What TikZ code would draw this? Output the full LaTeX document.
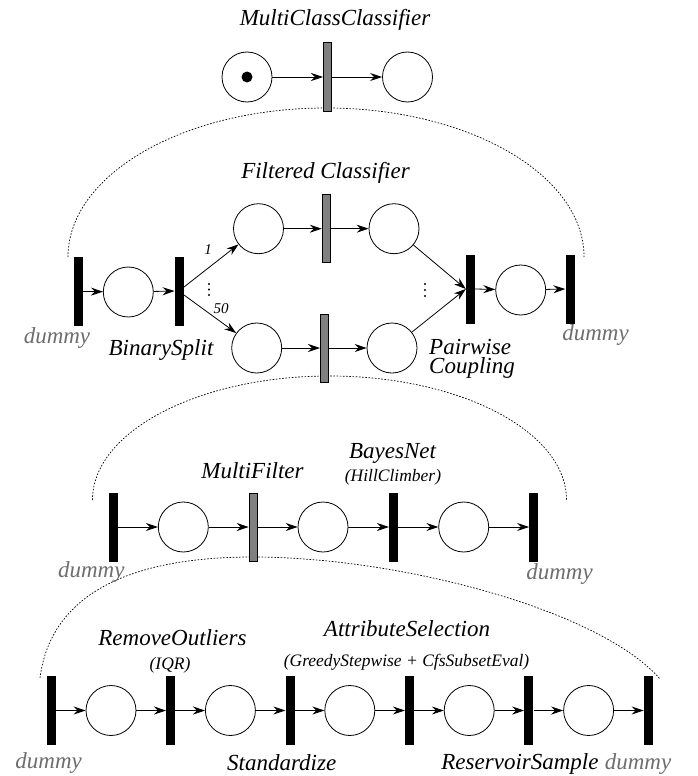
\documentclass[tikz,border=0pt]{standalone}
\usepackage{fontspec}
\setmainfont{Liberation Serif}
\usetikzlibrary{arrows.meta}
\definecolor{tgray}{HTML}{808080}
\definecolor{lgray}{HTML}{6E6E6E}
\begin{document}
\begin{tikzpicture}[x=1pt,y=-1pt,
  place/.style={circle,draw,line width=0.8pt,minimum size=50pt,inner sep=0pt},
  trans/.style={rectangle,fill=black,minimum width=9pt,minimum height=69pt,inner sep=0pt},
  gtrans/.style={rectangle,draw=black,line width=0.8pt,fill=tgray,minimum width=8.2pt,minimum height=68.2pt,inner sep=0pt},
  flow/.style={-{Stealth[length=12pt,width=8pt,inset=4pt]},line width=0.8pt},
  lbl/.style={font=\fontsize{23}{23}\selectfont\itshape,inner sep=0pt,anchor=base},
  sublbl/.style={font=\fontsize{17.5}{17.5}\selectfont\itshape,inner sep=0pt,anchor=base},
  numlbl/.style={font=\fontsize{15}{15}\selectfont\itshape,inner sep=0pt,anchor=base},
  dum/.style={lbl,text=lgray},
  zoomarc/.style={line width=0.7pt,dash pattern=on 1.6pt off 1.6pt},
  dotmark/.style={circle,fill=black,minimum size=2.4pt,inner sep=0pt},
  token/.style={circle,fill=black,minimum size=11pt,inner sep=0pt}
]
\useasboundingbox (0,0) rectangle (697,776);

% zoom arcs
\draw[zoomarc] (68,257) arc[start angle=180,end angle=0,x radius=258pt,y radius=149pt];
\draw[zoomarc] (92.5,500) arc[start angle=180,end angle=0,x radius=237pt,y radius=124pt];
\draw[zoomarc] (40,678) .. controls (50,600) and (120,557) .. (253,557)
                        .. controls (400,557) and (600,610) .. (660,679);

% ---- row 1
\node[place] (p1) at (247,77) {};
\node[token] (tok) at (p1.center) {};
\node[gtrans] (mcc) at (327.5,77) {};
\node[place] (p2) at (407.5,77) {};
\draw[flow] (p1) -- (mcc.west);
\draw[flow] (mcc.east) -- (p2);
\node[lbl] (lmcc) at (335,26) {MultiClassClassifier};

% ---- row 2
\node[trans] (r2d1) at (78.3,291.5) {};
\node[place] (r2a) at (128.3,292) {};
\node[trans] (bs) at (179.3,291) {};
\node[place] (u1) at (258.5,228.7) {};
\node[gtrans] (fc1) at (326.3,228.7) {};
\node[place] (u2) at (394,228.7) {};
\node[place] (l1) at (256.7,348) {};
\node[gtrans] (fc2) at (324.5,348) {};
\node[place] (l2) at (392,348) {};
\node[trans] (pw) at (470.5,289) {};
\node[place] (r2b) at (520.7,290) {};
\node[trans] (r2d2) at (570,289) {};
\draw[flow] (r2d1.east) -- (r2a);
\draw[flow] (r2a) -- (bs.west);
\draw[flow] ([yshift=4pt]bs.east) -- (u1);
\draw[flow] ([yshift=-4pt]bs.east) -- (l1);
\draw[flow] (u1) -- (fc1.west);
\draw[flow] (fc1.east) -- (u2);
\draw[flow] (l1) -- (fc2.west);
\draw[flow] (fc2.east) -- (l2);
\draw[flow] (u2) -- (pw.west);
\draw[flow] (l2) -- (pw.west);
\draw[flow] (pw.east) -- (r2b);
\draw[flow] (r2b) -- (r2d2.west);
\node[lbl] (lfc) at (325.5,178) {Filtered Classifier};
\node[numlbl] (n1) at (208,254) {1};
\node[numlbl] (n50) at (221,313) {50};
\node[dotmark] (da1) at (209,284) {};
\node[dotmark] (da2) at (209,289.5) {};
\node[dotmark] (da3) at (209,295) {};
\node[dotmark] (db1) at (425,284) {};
\node[dotmark] (db2) at (425,290) {};
\node[dotmark] (db3) at (425,296) {};
\node[dum] (dm2l) at (57,343) {dummy};
\node[lbl] (lbs) at (161,355) {BinarySplit};
\node[lbl,anchor=base west,align=left,font=\fontsize{23}{19}\selectfont\itshape] (lpw) at (429,373) {Pairwise\\Coupling};
\node[dum] (dm2r) at (595.5,340) {dummy};

% ---- row 3
\node[trans] (r3d1) at (113.3,527) {};
\node[place] (c1) at (183.3,527) {};
\node[gtrans] (mf) at (253.2,527) {};
\node[place] (c2) at (323,527) {};
\node[trans] (bn) at (393.5,527) {};
\node[place] (c3) at (463.7,527) {};
\node[trans] (r3d2) at (533.8,527) {};
\draw[flow] (r3d1.east) -- (c1);
\draw[flow] (c1) -- (mf.west);
\draw[flow] (mf.east) -- (c2);
\draw[flow] (c2) -- (bn.west);
\draw[flow] (bn.east) -- (c3);
\draw[flow] (c3) -- (r3d2.west);
\node[lbl] (lmf) at (252.5,478) {MultiFilter};
\node[lbl] (lbn) at (392.5,458) {BayesNet};
\node[sublbl] (lhc) at (393,481) {(HillClimber)};
\node[dum] (dm3l) at (91.3,577) {dummy};
\node[dum] (dm3r) at (559.6,579) {dummy};

% ---- row 4
\node[trans] (s1) at (51.3,710.5) {};
\node[place] (q1) at (111,710.5) {};
\node[trans] (s2) at (170.7,710.5) {};
\node[place] (q2) at (230.4,710.5) {};
\node[trans] (s3) at (290.1,710.5) {};
\node[place] (q3) at (349.8,710.5) {};
\node[trans] (s4) at (409.5,710.5) {};
\node[place] (q4) at (469.2,710.5) {};
\node[trans] (s5) at (528.9,710.5) {};
\node[place] (q5) at (588.6,710.5) {};
\node[trans] (s6) at (648.3,710.5) {};
\draw[flow] (s1.east) -- (q1);
\draw[flow] (q1) -- (s2.west);
\draw[flow] (s2.east) -- (q2);
\draw[flow] (q2) -- (s3.west);
\draw[flow] (s3.east) -- (q3);
\draw[flow] (q3) -- (s4.west);
\draw[flow] (s4.east) -- (q4);
\draw[flow] (q4) -- (s5.west);
\draw[flow] (s5.east) -- (q5);
\draw[flow] (q5) -- (s6.west);
\node[lbl] (lro) at (172.5,645) {RemoveOutliers};
\node[sublbl] (liqr) at (170,669) {(IQR)};
\node[lbl] (las) at (407,636) {AttributeSelection};
\node[sublbl] (lgs) at (406.5,666) {(GreedyStepwise + CfsSubsetEval)};
\node[dum] (dm4l) at (48.7,768) {dummy};
\node[lbl] (lst) at (281.7,770) {Standardize};
\node[lbl] (lrs) at (520,769) {ReservoirSample};
\node[dum] (dm4r) at (638,769) {dummy};
\end{tikzpicture}
\end{document}
